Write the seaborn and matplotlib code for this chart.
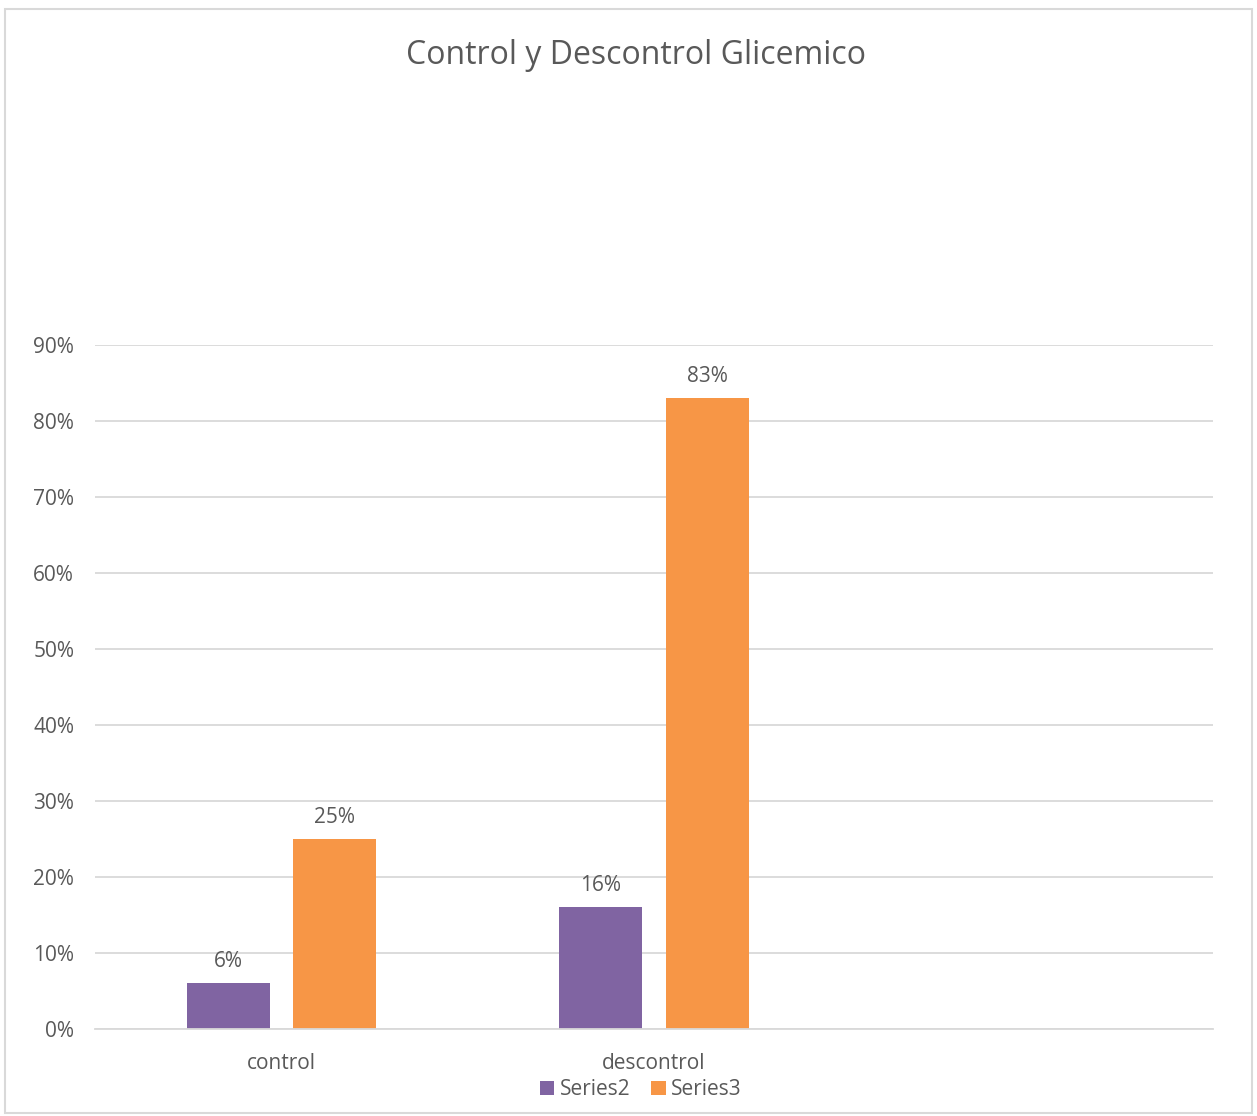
import pandas as pd
import seaborn as sns
import matplotlib.pyplot as plt
from matplotlib.patches import Rectangle

categories = ['control', 'descontrol']
series_names = ['Series2', 'Series3']
series2 = [0.06, 0.16]
series3 = [0.25, 0.83]
yticks = [0, 0.1, 0.2, 0.3, 0.4, 0.5, 0.6, 0.7, 0.8, 0.9]

df = pd.DataFrame({
    'cat': categories * 2,
    'serie': [series_names[0]] * 2 + [series_names[1]] * 2,
    'val': series2 + series3,
})

sns.set_style('white')
plt.rcParams['font.family'] = ['Open Sans', 'DejaVu Sans']
text_col = '#595959'
grid_col = '#D9D9D9'

fig = plt.figure(figsize=(12.57, 11.16), dpi=100)
ax = fig.add_axes([0.0756, 0.078, 0.8894, 0.6129])

sns.barplot(data=df, x='cat', y='val', hue='serie', order=categories,
            palette=['#8064A2', '#F79646'], width=0.57, gap=0.22,
            saturation=1, linewidth=0, edgecolor='none', ax=ax, legend=True)

for cont in ax.containers:
    ax.bar_label(cont, labels=[f'{v*100:.0f}%' for v in cont.datavalues],
                 padding=8, fontsize=15, color=text_col)

ax.set_xlim(-0.5, 2.5)
ax.set_ylim(0, 0.9)
ax.set_yticks(yticks)
ax.set_yticklabels([f'{t*100:.0f}%' for t in yticks])
ax.yaxis.grid(True, color=grid_col, linewidth=1.3)
ax.set_axisbelow(True)
for s in ['top', 'right', 'left']:
    ax.spines[s].set_visible(False)
ax.spines['bottom'].set_color(grid_col)
ax.spines['bottom'].set_linewidth(1.3)
ax.tick_params(axis='both', length=0, labelsize=15, labelcolor=text_col)
ax.tick_params(axis='y', pad=15)
ax.tick_params(axis='x', pad=17)
ax.set_xlabel('')
ax.set_ylabel('')

leg = ax.legend(loc='upper center', bbox_to_anchor=(0.488, -0.046), ncol=2,
                frameon=False, fontsize=15, handlelength=0.7, handleheight=0.7,
                handletextpad=0.25, columnspacing=1.0, labelcolor=text_col)

fig.text(0.506, 0.950, 'Control y Descontrol Glicemico', ha='center', va='center',
         fontsize=23, color=text_col)

fig.patches.append(Rectangle((0.004, 0.003), 0.992, 0.989, transform=fig.transFigure,
                             fill=False, edgecolor=grid_col, linewidth=1.5))

fig.savefig('out.png', dpi=100)
